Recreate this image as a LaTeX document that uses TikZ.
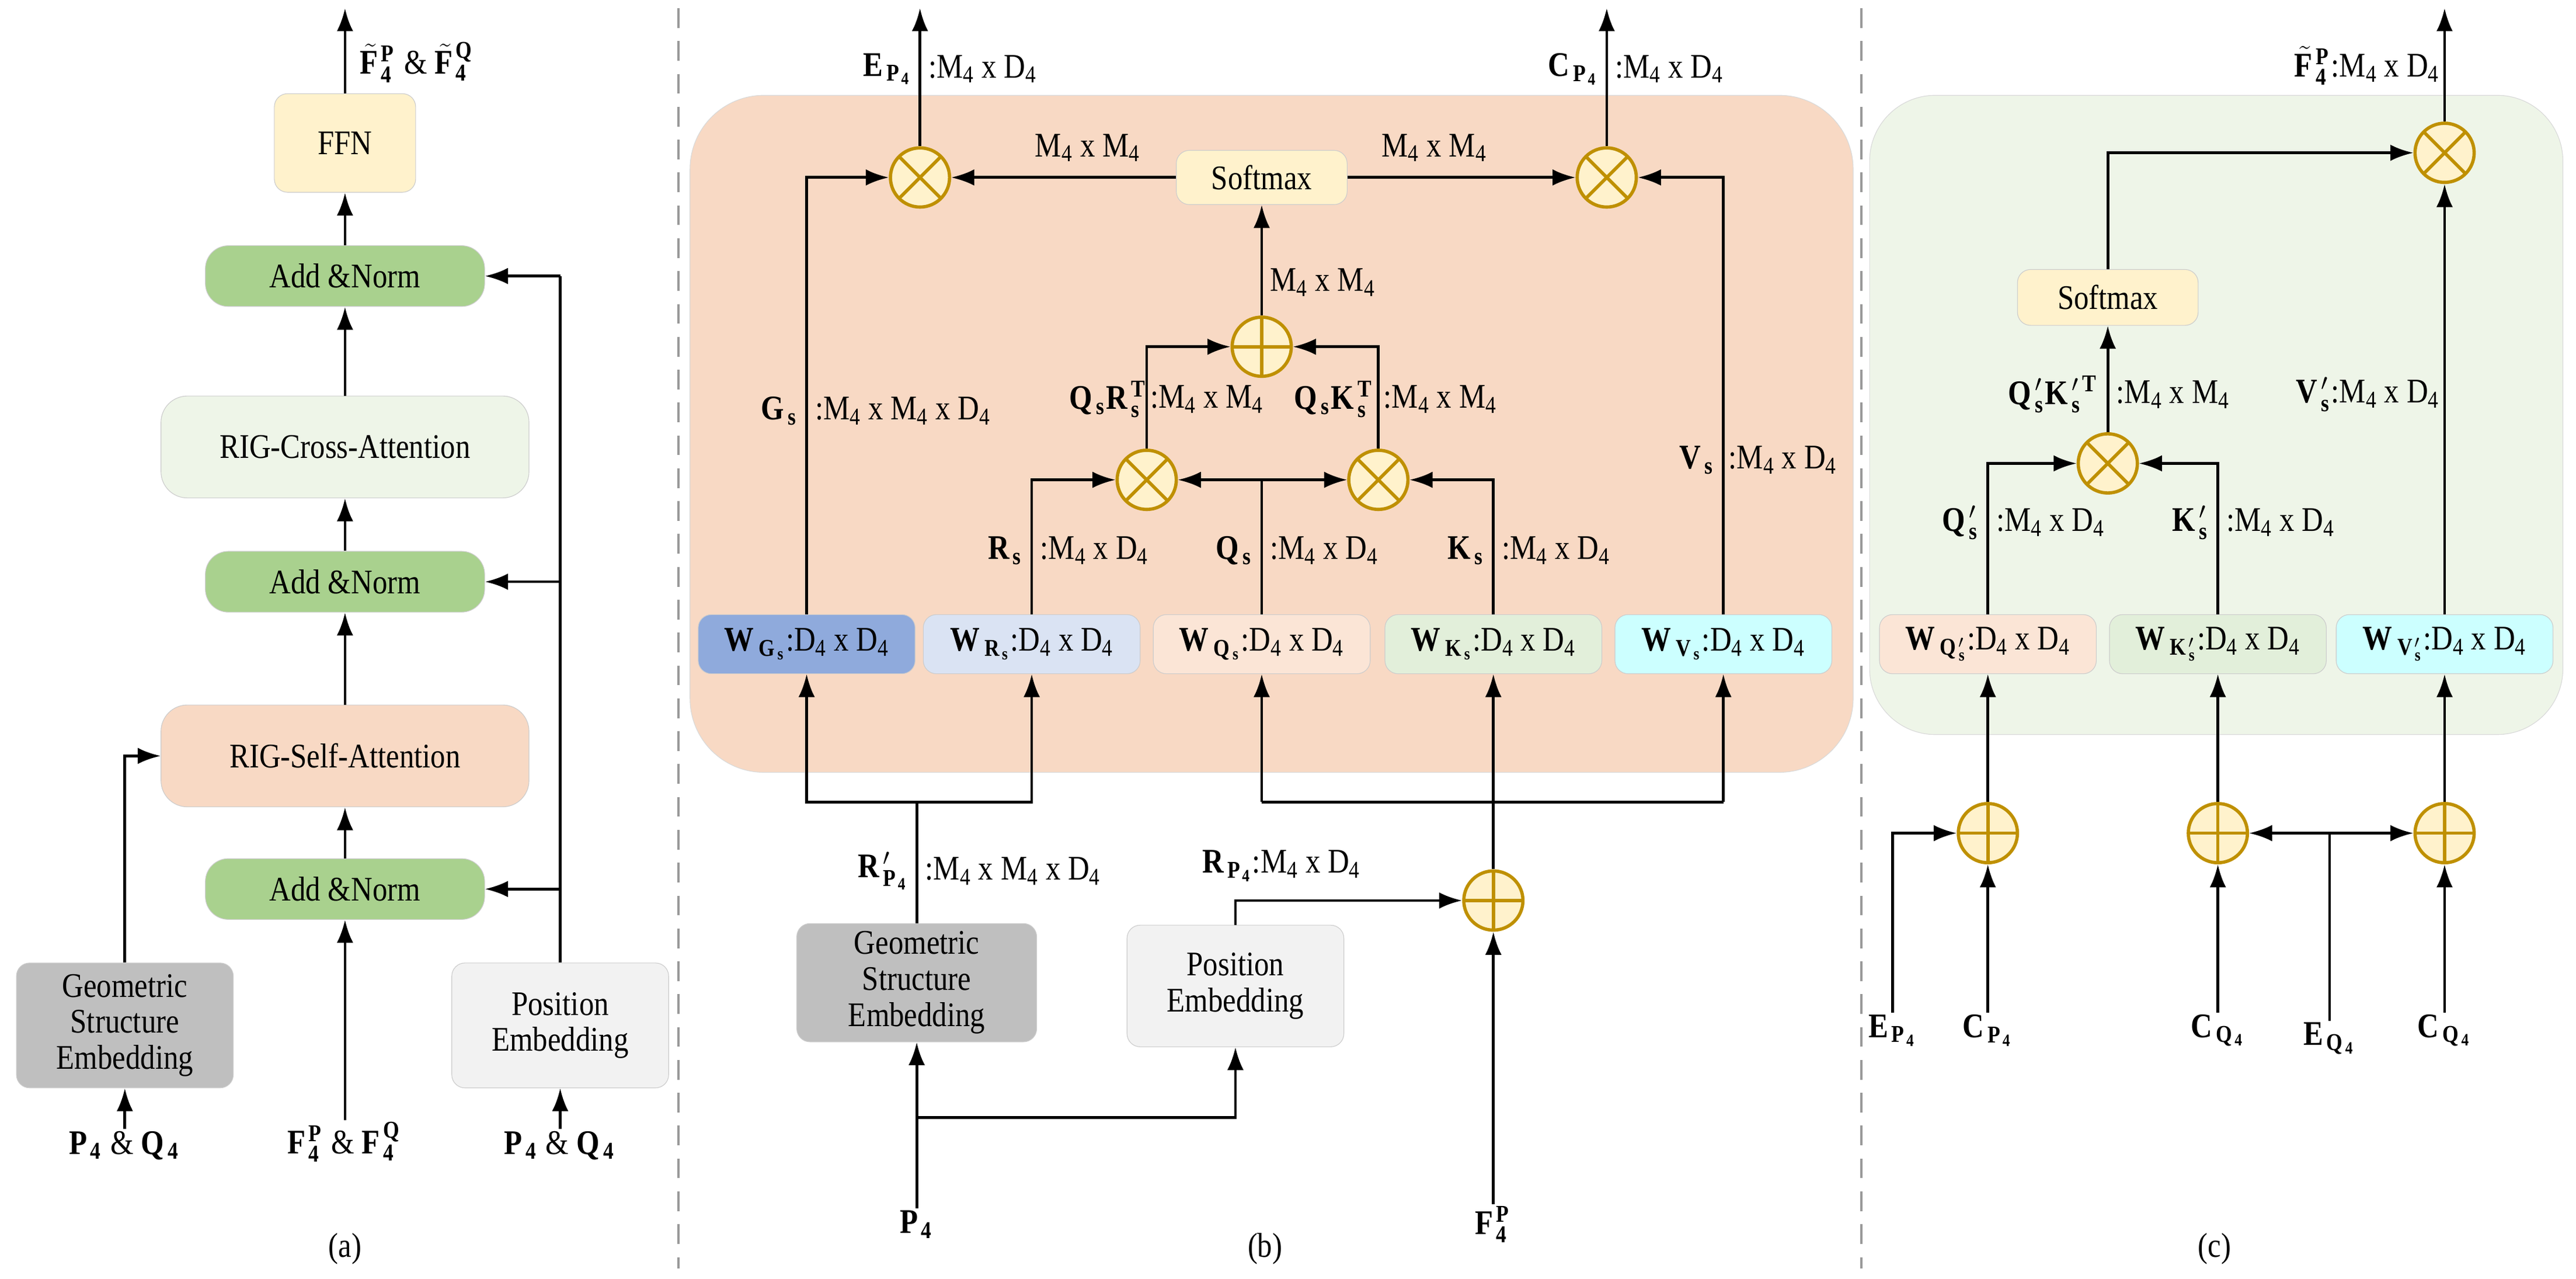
\documentclass[tikz,border=0pt]{standalone}
\usepackage{fontspec}
\setmainfont{Liberation Serif}[FakeStretch=0.86]
\usetikzlibrary{arrows.meta,positioning,calc}
\definecolor{opc}{RGB}{191,144,0}
\definecolor{opf}{RGB}{255,242,204}
\definecolor{ffn}{RGB}{255,242,204}
\definecolor{addn}{RGB}{169,209,142}
\definecolor{cross}{RGB}{238,245,232}
\definecolor{selfa}{RGB}{248,217,196}
\definecolor{gse}{RGB}{191,191,191}
\definecolor{pose}{RGB}{242,242,242}
\definecolor{wg}{RGB}{143,170,220}
\definecolor{wr}{RGB}{218,227,243}
\definecolor{wq}{RGB}{251,229,214}
\definecolor{wk}{RGB}{226,239,218}
\definecolor{wv}{RGB}{204,255,255}
\newcommand{\lsub}[1]{\textsubscript{#1}}
\newcommand{\mxd}{:M\lsub{4} x D\lsub{4}}
\newcommand{\mxm}{:M\lsub{4} x M\lsub{4}}

\begin{document}
\begin{tikzpicture}[x=1pt,y=-1pt,font=\fontsize{21}{22}\selectfont,
  arr/.style={-{Latex[length=14pt,width=10pt]},line width=1.7pt},
  ln/.style={line width=1.7pt},
  box/.style={draw=black!20,rounded corners=8pt,align=center,inner sep=1pt},
  wbox/.style={box,minimum width=132pt,minimum height=36pt},
  op/.style={circle,draw=opc,fill=opf,line width=2pt,minimum size=36pt,inner sep=0pt},
  mul/.style={op,path picture={\draw[opc,line width=2pt]
    (path picture bounding box.north west)--(path picture bounding box.south east)
    (path picture bounding box.north east)--(path picture bounding box.south west);}},
  add/.style={op,path picture={\draw[opc,line width=2pt]
    (path picture bounding box.north)--(path picture bounding box.south)
    (path picture bounding box.west)--(path picture bounding box.east);}},
  lab/.style={inner sep=1pt}]

  \useasboundingbox (0,0) rectangle (1568,778);

  % separators
  \draw[black!40,line width=1.5pt,dash pattern=on 12pt off 8pt] (413,5) -- (413,772);
  \draw[black!40,line width=1.5pt,dash pattern=on 12pt off 8pt] (1133,5) -- (1133,772);

  % ---------- (a)
  \node[box,fill=ffn,minimum width=86pt,minimum height=60pt] (ffn) at (210,87) {FFN};
  \node[box,fill=addn,rounded corners=14pt,minimum width=170pt,minimum height=37pt] (an3) at (210,168) {Add \&Norm};
  \node[box,fill=cross,rounded corners=16pt,minimum width=224pt,minimum height=62pt] (cross) at (210,272) {RIG-Cross-Attention};
  \node[box,fill=addn,rounded corners=14pt,minimum width=170pt,minimum height=37pt] (an2) at (210,354) {Add \&Norm};
  \node[box,fill=selfa,rounded corners=16pt,minimum width=224pt,minimum height=62pt] (selfa) at (210,460) {RIG-Self-Attention};
  \node[box,fill=addn,rounded corners=14pt,minimum width=170pt,minimum height=37pt] (an1) at (210,541) {Add \&Norm};
  \node[box,fill=gse,minimum width=132pt,minimum height=76pt] (gsea) at (76,624) {Geometric\\Structure\\Embedding};
  \node[box,fill=pose,minimum width=132pt,minimum height=76pt] (posa) at (341,624) {Position\\Embedding};
  \node[lab] (ina1) at (76,697) {$\mathbf{P_4}$ \& $\mathbf{Q_4}$};
  \node[lab] (ina2) at (210,695) {$\mathbf{F_4^P}$ \& $\mathbf{F_4^Q}$};
  \node[lab] (ina3) at (341,697) {$\mathbf{P_4}$ \& $\mathbf{Q_4}$};
  \coordinate (outa) at (210,5);
  \node[lab,anchor=west] (outla) at (218,38) {$\tilde{\mathbf{F}}\mathbf{{}_4^P}$ \& $\tilde{\mathbf{F}}\mathbf{{}_4^Q}$};
  \coordinate (pa) at (341,168);

  \draw[arr] (ina1) -- (gsea);
  \draw[arr] (ina2) -- (an1);
  \draw[arr] (ina3) -- (posa);
  \draw[arr] (gsea.north) |- (selfa.west);
  \draw[arr] (an1) -- (selfa);
  \draw[arr] (selfa) -- (an2);
  \draw[arr] (an2) -- (cross);
  \draw[arr] (cross) -- (an3);
  \draw[arr] (an3) -- (ffn);
  \draw[arr] (ffn) -- (outa);
  \draw[ln] (posa.north) -- (pa);
  \draw[arr] (pa) -- (an3.east);
  \draw[arr] (posa.north |- an2) -- (an2.east);
  \draw[arr] (posa.north |- an1) -- (an1.east);
  \node at (210,760) {(a)};

  % ---------- (b)
  \fill[selfa,draw=black!15,rounded corners=45pt] (420,58) rectangle (1128,470);
  \node[mul] (mg) at (560,108) {};
  \node[mul] (mv) at (978,108) {};
  \node[box,fill=ffn,minimum width=104pt,minimum height=33pt] (smb) at (768,108) {Softmax};
  \node[add] (ab) at (768,211) {};
  \node[mul] (mr) at (698,292) {};
  \node[mul] (mk) at (839,292) {};
  \node[wbox,fill=wg] (wgs) at (491,392) {$\mathbf{W_{G_s}}$:D\lsub{4} x D\lsub{4}};
  \node[wbox,fill=wr] (wrs) at (628,392) {$\mathbf{W_{R_s}}$:D\lsub{4} x D\lsub{4}};
  \node[wbox,fill=wq] (wqs) at (768,392) {$\mathbf{W_{Q_s}}$:D\lsub{4} x D\lsub{4}};
  \node[wbox,fill=wk] (wks) at (909,392) {$\mathbf{W_{K_s}}$:D\lsub{4} x D\lsub{4}};
  \node[wbox,fill=wv] (wvs) at (1049,392) {$\mathbf{W_{V_s}}$:D\lsub{4} x D\lsub{4}};
  \node[box,fill=gse,minimum width=146pt,minimum height=72pt] (gseb) at (558,598) {Geometric\\Structure\\Embedding};
  \node[box,fill=pose,minimum width=132pt,minimum height=74pt] (posb) at (752,600) {Position\\Embedding};
  \node[add] (af) at (909,548) {};
  \node[lab] (pb) at (558,745) {$\mathbf{P_4}$};
  \node[lab] (fb) at (909,745) {$\mathbf{F_4^P}$};
  \coordinate (oute) at (560,5);
  \coordinate (outc) at (978,5);
  \coordinate (sg) at (558,488);
  \coordinate (sq) at (768,488);
  \coordinate (sv) at (1049,488);
  \coordinate (sp) at (558,680);
  \coordinate (qm) at (768,292);

  \draw[arr] (mg) -- (oute);
  \draw[arr] (mv) -- (outc);
  \draw[arr] (smb) -- (mg);
  \draw[arr] (smb) -- (mv);
  \draw[arr] (ab) -- (smb);
  \draw[arr] (mr.north) |- (ab.west);
  \draw[arr] (mk.north) |- (ab.east);
  \draw[arr] (wrs.north) |- (mr.west);
  \draw[ln] (wqs.north) -- (qm);
  \draw[arr] (qm) -- (mr.east);
  \draw[arr] (qm) -- (mk.west);
  \draw[arr] (wks.north) |- (mk.east);
  \draw[arr] (wgs.north) |- (mg.west);
  \draw[arr] (wvs.north) |- (mv.east);
  \draw[ln] (gseb.north) -- (sg);
  \draw[arr] (sg) -| (wgs.south);
  \draw[arr] (sg) -| (wrs.south);
  \draw[arr] (af) -- (wks.south);
  \draw[ln] (sq) -- (sv);
  \draw[arr] (sq) -- (wqs.south);
  \draw[arr] (sv) -- (wvs.south);
  \draw[arr] (posb.north) |- (af.west);
  \draw[arr] (pb) -- (gseb);
  \draw[arr] (sp) -| (posb.south);
  \draw[arr] (fb) -- (af);

  \node[lab,anchor=east] at (556,42) {$\mathbf{E_{P_4}}$};
  \node[lab,anchor=west] at (564,42) {\mxd};
  \node[lab,anchor=east] at (974,42) {$\mathbf{C_{P_4}}$};
  \node[lab,anchor=west] at (982,42) {\mxd};
  \node[lab] at (662,90) {M\lsub{4} x M\lsub{4}};
  \node[lab] at (873,90) {M\lsub{4} x M\lsub{4}};
  \node[lab,anchor=west] at (772,172) {M\lsub{4} x M\lsub{4}};
  \node[lab,anchor=east] at (700,243) {$\mathbf{Q_sR_s^T}$};
  \node[lab,anchor=west] at (699,243) {\mxm};
  \node[lab,anchor=east] at (838,243) {$\mathbf{Q_sK_s^T}$};
  \node[lab,anchor=west] at (841,243) {\mxm};
  \node[lab,anchor=east] at (487,250) {$\mathbf{G_s}$};
  \node[lab,anchor=west] at (495,250) {:M\lsub{4} x M\lsub{4} x D\lsub{4}};
  \node[lab,anchor=east] at (1045,280) {$\mathbf{V_s}$};
  \node[lab,anchor=west] at (1051,280) {\mxd};
  \node[lab,anchor=east] at (624,335) {$\mathbf{R_s}$};
  \node[lab,anchor=west] at (632,335) {\mxd};
  \node[lab,anchor=east] at (764,335) {$\mathbf{Q_s}$};
  \node[lab,anchor=west] at (772,335) {\mxd};
  \node[lab,anchor=east] at (905,335) {$\mathbf{K_s}$};
  \node[lab,anchor=west] at (913,335) {\mxd};
  \node[lab,anchor=east] at (554,530) {$\mathbf{R'_{P_4}}$};
  \node[lab,anchor=west] at (562,530) {:M\lsub{4} x M\lsub{4} x D\lsub{4}};
  \node[lab] at (780,527) {$\mathbf{R_{P_4}}$\mxd};
  \node at (770,760) {(b)};

  % ---------- (c)
  \fill[cross,draw=black!15,rounded corners=40pt] (1138,58) rectangle (1560,447);
  \node[mul] (mo) at (1488,93) {};
  \node[box,fill=ffn,minimum width=110pt,minimum height=34pt] (smc) at (1283,181) {Softmax};
  \node[mul] (mqk) at (1283,282) {};
  \node[wbox,fill=wq] (wqc) at (1210,392) {$\mathbf{W_{Q'_s}}$:D\lsub{4} x D\lsub{4}};
  \node[wbox,fill=wk] (wkc) at (1350,392) {$\mathbf{W_{K'_s}}$:D\lsub{4} x D\lsub{4}};
  \node[wbox,fill=wv] (wvc) at (1488,392) {$\mathbf{W_{V'_s}}$:D\lsub{4} x D\lsub{4}};
  \node[add] (aq) at (1210,507) {};
  \node[add] (ak) at (1350,507) {};
  \node[add] (av) at (1488,507) {};
  \node[lab] (ep) at (1152,627) {$\mathbf{E_{P_4}}$};
  \node[lab] (cp) at (1210,627) {$\mathbf{C_{P_4}}$};
  \node[lab] (cq1) at (1350,627) {$\mathbf{C_{Q_4}}$};
  \node[lab] (eq) at (1418,632) {$\mathbf{E_{Q_4}}$};
  \node[lab] (cq2) at (1488,627) {$\mathbf{C_{Q_4}}$};
  \coordinate (outf) at (1488,5);
  \coordinate (se) at (1418,507);

  \draw[arr] (mo) -- (outf);
  \draw[arr] (smc.north) |- (mo.west);
  \draw[arr] (mqk) -- (smc);
  \draw[arr] (wqc.north) |- (mqk.west);
  \draw[arr] (wkc.north) |- (mqk.east);
  \draw[arr] (wvc) -- (mo);
  \draw[arr] (aq) -- (wqc);
  \draw[arr] (ak) -- (wkc);
  \draw[arr] (av) -- (wvc);
  \draw[arr] (ep.north) |- (aq.west);
  \draw[arr] (cp) -- (aq);
  \draw[arr] (cq1) -- (ak);
  \draw[arr] (cq2) -- (av);
  \draw[ln] (eq.north) -- (se);
  \draw[arr] (se) -- (ak.east);
  \draw[arr] (se) -- (av.west);

  \node[lab,anchor=east] at (1486,40) {$\tilde{\mathbf{F}}\mathbf{{}_4^P}$\mxd};
  \node[lab,anchor=east] at (1279,240) {$\mathbf{Q'_sK'^{\,T}_s}$};
  \node[lab,anchor=west] at (1287,240) {\mxm};
  \node[lab,anchor=east] at (1486,240) {$\mathbf{V'_s}$\mxd};
  \node[lab,anchor=east] at (1206,318) {$\mathbf{Q'_s}$};
  \node[lab,anchor=west] at (1214,318) {\mxd};
  \node[lab,anchor=east] at (1346,318) {$\mathbf{K'_s}$};
  \node[lab,anchor=west] at (1354,318) {\mxd};
  \node at (1348,760) {(c)};
\end{tikzpicture}
\end{document}
